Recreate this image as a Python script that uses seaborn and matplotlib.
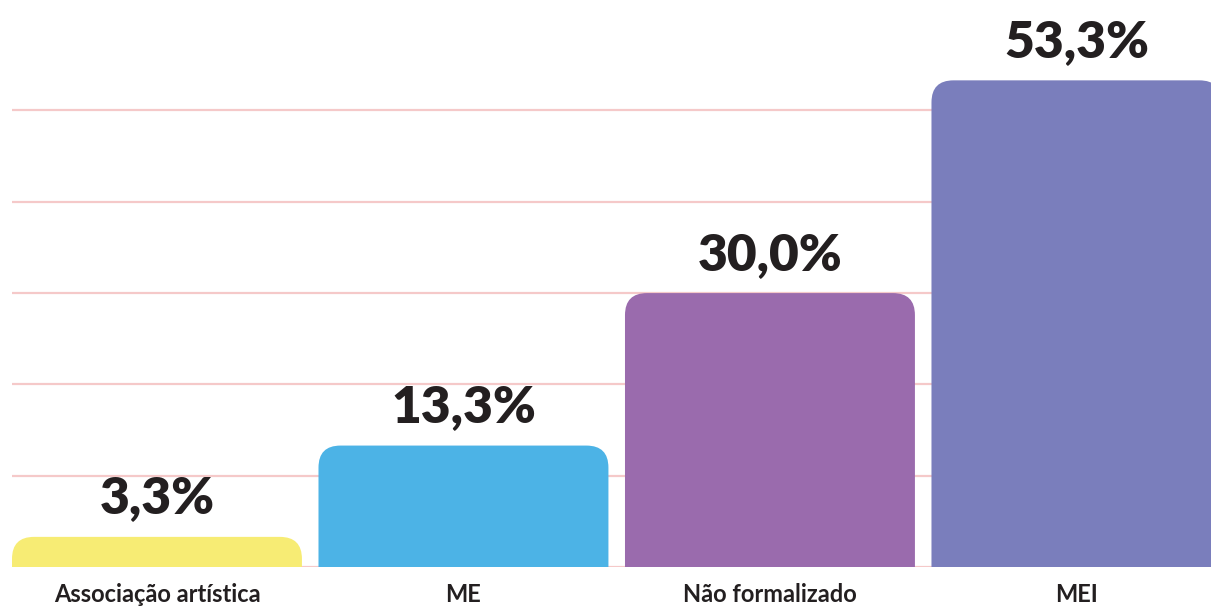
import matplotlib
matplotlib.use('Agg')
import matplotlib.pyplot as plt
import seaborn as sns
from matplotlib.patches import FancyBboxPatch

# dados
categorias = ['Associação artística', 'ME', 'Não formalizado', 'MEI']
valores = [3.3, 13.3, 30.0, 53.3]
rotulos = ['3,3%', '13,3%', '30,0%', '53,3%']
cores = ['#F7EC74', '#4CB3E6', '#9A6BAD', '#7A7EBC']
grade = [0, 10, 20, 30, 40, 50]

sns.set_theme(style='white')
plt.rcParams['font.family'] = ['Lato', 'DejaVu Sans']

fig = plt.figure(figsize=(12.11, 6.06), dpi=100)
ax = fig.add_axes([12 / 1211, 39 / 606, 1199 / 1211, 567 / 606])

sns.barplot(x=categorias, y=valores, hue=categorias, palette=cores,
            width=0.946, legend=False, ax=ax, saturation=1, zorder=2)

ax.set_xlim(-0.473, 3.439)
ax.set_ylim(0, 62.1)

# linhas de grade
for g in grade:
    ax.axhline(g, color='#F5C9C9', lw=1.6, zorder=1)

# cantos arredondados no topo
px_x = (1199 / (3.439 + 0.473))
px_y = 567 / 62.1
raio = 22 / px_x
for p in list(ax.patches):
    x, w, h = p.get_x(), p.get_width(), p.get_height()
    cor = p.get_facecolor()
    p.remove()
    fb = FancyBboxPatch((x, -5), w, h + 5,
                        boxstyle=f'round,pad=0,rounding_size={raio}',
                        mutation_aspect=px_x / px_y,
                        facecolor=cor, edgecolor='none', zorder=2)
    ax.add_patch(fb)

for i, (v, r) in enumerate(zip(valores, rotulos)):
    ax.text(i, v + 1.7, r, ha='center', va='bottom', fontsize=37,
            fontweight='heavy', color='#231F20')
    ax.text(i, -3.0, categorias[i], ha='center', va='center', fontsize=17,
            fontweight='bold', color='#231F20', clip_on=False)

ax.set_xticks([])
ax.set_yticks([])
ax.set_xlabel('')
ax.set_ylabel('')
sns.despine(ax=ax, left=True, bottom=True)

fig.savefig('out.png', dpi=100)
